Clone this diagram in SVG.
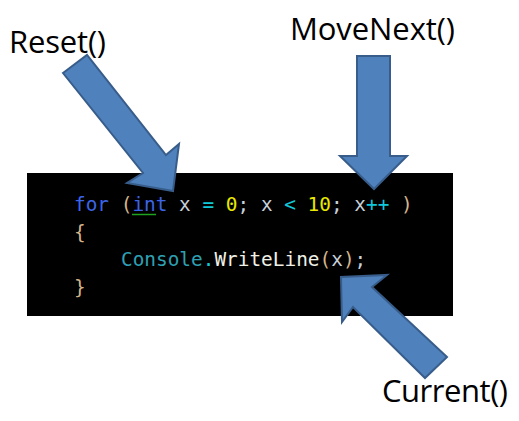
<svg xmlns="http://www.w3.org/2000/svg" width="519" height="421" viewBox="0 0 519 421">
<style>
.lbl{font-family:"Open Sans","Liberation Sans",sans-serif;font-size:31px;fill:#000}
.code{font-family:"DejaVu Sans Mono","Liberation Mono",monospace;font-size:19.4px}
.arrow{fill:#4f81bd;stroke:#385d8a;stroke-width:2;stroke-linejoin:miter}
.kw{fill:#3c64e8}.br{fill:#d4b48a}.id{fill:#c8d0d8}.op{fill:#10c8d8}.num{fill:#e8e800}.ty{fill:#2ea0b4}.fn{fill:#f0f0e6}
</style>
<g id="code">
<rect x="27" y="173" width="426" height="143" fill="#000"/>
<text class="code" x="74" y="211" xml:space="preserve"><tspan class="kw">for</tspan><tspan class="id"> </tspan><tspan class="br">(</tspan><tspan class="kw">int</tspan><tspan class="id"> x </tspan><tspan class="op">=</tspan><tspan class="id"> </tspan><tspan class="num">0</tspan><tspan class="id">; x </tspan><tspan class="op">&lt;</tspan><tspan class="id"> </tspan><tspan class="num">10</tspan><tspan class="id">; x</tspan><tspan class="op">++</tspan><tspan class="id"> </tspan><tspan class="br">)</tspan></text>
<line x1="132" y1="214.5" x2="156" y2="214.5" stroke="#1fa31f" stroke-width="1.5"/>
<text class="code br" x="74" y="238.5">{</text>
<text class="code" x="121" y="266"><tspan class="ty">Console</tspan><tspan class="op">.</tspan><tspan class="fn">WriteLine</tspan><tspan class="br">(</tspan><tspan class="id">x</tspan><tspan class="br">)</tspan><tspan class="id">;</tspan></text>
<text class="code br" x="74" y="293.5">}</text>
</g>
<g id="reset">
<text class="lbl" x="9" y="53" textLength="97">Reset()</text>
</g>
<g id="movenext">
<text class="lbl" x="290" y="40" textLength="165">MoveNext()</text>
</g>
<g id="current">
<text class="lbl" x="382" y="402" textLength="126">Current()</text>
</g>
<g id="connectors">
<polygon class="arrow" points="63,73 87,55 166,155 179,144 173,191 127,183 143,173"/>
<polygon class="arrow" points="357,56 390,56 390,156 407,156 374,189 340,156 357,156"/>
<polygon class="arrow" points="447,357 425,378 353,307 342,322 341,277 387,275 372,287"/>
</g>
</svg>
